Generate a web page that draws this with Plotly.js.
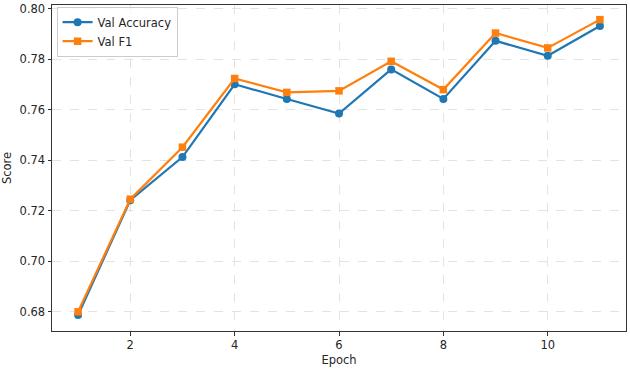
<!DOCTYPE html>
<html>
<head>
<meta charset="utf-8">
<script src="https://cdn.plot.ly/plotly-3.0.1.min.js"></script>
<style>html,body{margin:0;padding:0;background:#fff;}#chart{width:630px;height:369px;}</style>
</head>
<body>
<div id="chart"></div>
<script>
const epochs = [1, 2, 3, 4, 5, 6, 7, 8, 9, 10, 11];
const valAccuracy = [0.6786, 0.7241, 0.7412, 0.7700, 0.7642, 0.7584, 0.7759, 0.7642, 0.7872, 0.7813, 0.7931];
const valF1 = [0.6799, 0.7245, 0.7451, 0.7723, 0.7668, 0.7674, 0.7791, 0.7679, 0.7903, 0.7844, 0.7956];
const xTicks = [2, 4, 6, 8, 10];
const yTicks = [0.68, 0.70, 0.72, 0.74, 0.76, 0.78, 0.80];

const font = {family: 'DejaVu Sans, sans-serif', size: 11.5, color: '#262626'};
const traces = [
  {x: epochs, y: valAccuracy, name: 'Val Accuracy', mode: 'lines+markers',
   line: {color: '#1f77b4', width: 2.2}, marker: {symbol: 'circle', size: 8, color: '#1f77b4'}},
  {x: epochs, y: valF1, name: 'Val F1', mode: 'lines+markers',
   line: {color: '#ff7f0e', width: 2.2}, marker: {symbol: 'square', size: 7.5, color: '#ff7f0e'}}
];
const axisCommon = {
  showline: true, mirror: true, linecolor: '#333', linewidth: 1,
  ticks: 'outside', ticklen: 3.5, tickcolor: '#333', tickwidth: 1,
  showgrid: true, gridcolor: '#dcdcdc', griddash: 'dash', gridwidth: 0.8,
  zeroline: false, tickfont: font
};
const layout = {
  width: 630, height: 369,
  margin: {l: 52, r: 4, t: 5, b: 38},
  paper_bgcolor: '#fff', plot_bgcolor: '#fff',
  font: font,
  showlegend: true,
  legend: {x: 0.008, y: 0.995, xanchor: 'left', yanchor: 'top',
           bgcolor: 'rgba(255,255,255,0.8)', bordercolor: '#cccccc', borderwidth: 1,
           font: {family: 'DejaVu Sans, sans-serif', size: 11.5, color: '#262626'},
           itemwidth: 30, tracegroupgap: 0},
  xaxis: Object.assign({}, axisCommon, {
    range: [0.5, 11.5], tickvals: xTicks, ticktext: xTicks.map(String),
    title: {text: 'Epoch', font: font, standoff: 4}
  }),
  yaxis: Object.assign({}, axisCommon, {
    range: [0.6723, 0.8014], tickvals: yTicks, ticktext: yTicks.map(v => v.toFixed(2)),
    title: {text: 'Score', font: font, standoff: 6}
  })
};
Plotly.newPlot('chart', traces, layout, {displayModeBar: false, staticPlot: true});
</script>
</body>
</html>
